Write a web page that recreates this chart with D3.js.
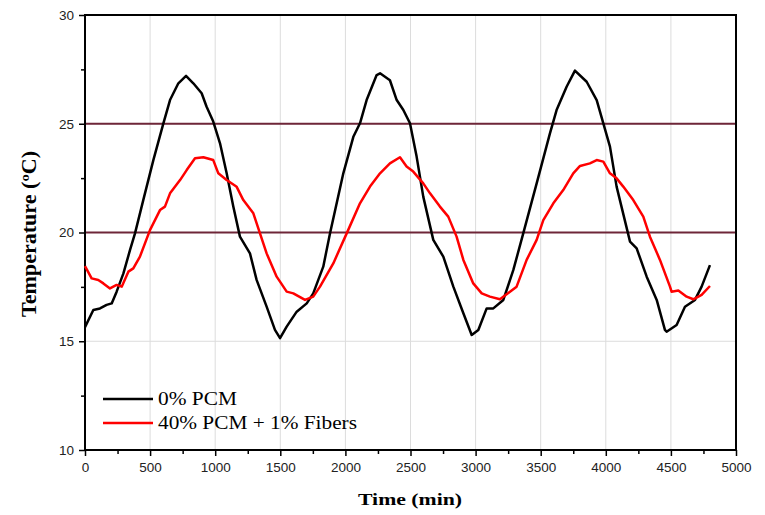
<!DOCTYPE html>
<html>
<head>
<meta charset="utf-8">
<script src="https://cdn.jsdelivr.net/npm/d3@7"></script>
<style>
  body { margin: 0; background: #fff; }
  .tick text { font-family: "Liberation Sans", Arial, sans-serif; font-size: 13.5px; fill: #222; }
  .axis-title { font-family: "Liberation Serif", "Times New Roman", serif; font-weight: bold; font-size: 17px; }
  .legend text { font-family: "Liberation Serif", "Times New Roman", serif; font-size: 18px; }
</style>
</head>
<body>
<svg></svg>
<script>
// time (min) / temperature (°C)
const pcm0Time = [0, 64, 115, 166, 205, 243, 295, 346, 384, 448, 525, 602, 653, 717, 776, 832, 896, 934, 985, 1037, 1088, 1139, 1190, 1267, 1318, 1395, 1459, 1498, 1549, 1626, 1703, 1753, 1830, 1882, 1984, 2061, 2112, 2163, 2240, 2266, 2342, 2394, 2445, 2496, 2547, 2598, 2675, 2752, 2829, 2906, 2970, 3021, 3085, 3136, 3213, 3290, 3366, 3469, 3571, 3622, 3699, 3763, 3853, 3930, 3981, 4032, 4083, 4186, 4237, 4314, 4391, 4454, 4467, 4544, 4608, 4685, 4736, 4800]
const pcm0Temp = [15.65, 16.44, 16.51, 16.67, 16.74, 17.28, 18.12, 19.2, 19.96, 21.5, 23.33, 25.02, 26.09, 26.86, 27.2, 26.86, 26.4, 25.78, 25.1, 24.1, 22.72, 21.19, 19.81, 19.04, 17.82, 16.59, 15.52, 15.14, 15.67, 16.36, 16.74, 17.2, 18.43, 19.96, 22.72, 24.4, 25.02, 26.09, 27.24, 27.32, 27.0, 26.09, 25.63, 25.02, 23.49, 21.65, 19.66, 18.89, 17.51, 16.29, 15.29, 15.52, 16.51, 16.51, 16.9, 18.28, 19.96, 22.26, 24.56, 25.63, 26.7, 27.44, 26.93, 26.09, 25.02, 23.95, 22.11, 19.58, 19.27, 17.97, 16.9, 15.52, 15.44, 15.75, 16.59, 16.9, 17.51, 18.5]

const pcm40Time = [0, 51, 102, 141, 192, 243, 282, 333, 371, 422, 499, 576, 614, 653, 730, 781, 845, 909, 985, 1024, 1088, 1165, 1216, 1293, 1344, 1395, 1472, 1549, 1600, 1690, 1753, 1805, 1907, 2010, 2112, 2189, 2266, 2342, 2419, 2470, 2521, 2598, 2650, 2726, 2790, 2854, 2906, 2982, 3047, 3110, 3187, 3264, 3315, 3392, 3469, 3520, 3597, 3673, 3750, 3802, 3878, 3930, 3981, 4032, 4083, 4134, 4211, 4288, 4339, 4416, 4493, 4505, 4557, 4621, 4672, 4736, 4800]
const pcm40Temp = [18.45, 17.89, 17.82, 17.66, 17.43, 17.59, 17.51, 18.2, 18.35, 18.89, 20.11, 21.03, 21.19, 21.8, 22.41, 22.87, 23.41, 23.46, 23.33, 22.72, 22.41, 22.1, 21.49, 20.88, 19.96, 19.04, 17.97, 17.28, 17.2, 16.9, 17.05, 17.51, 18.58, 19.96, 21.34, 22.11, 22.72, 23.18, 23.46, 23.03, 22.8, 22.26, 21.8, 21.19, 20.73, 19.81, 18.74, 17.66, 17.2, 17.05, 16.93, 17.28, 17.51, 18.74, 19.66, 20.57, 21.34, 21.95, 22.72, 23.06, 23.18, 23.33, 23.26, 22.72, 22.49, 22.11, 21.49, 20.73, 19.81, 18.74, 17.51, 17.28, 17.33, 17.05, 16.93, 17.13, 17.54]

const xTicks = [0, 500, 1000, 1500, 2000, 2500, 3000, 3500, 4000, 4500, 5000]
const yTicks = [10, 15, 20, 25, 30]
const refLines = [20, 25]
const seriesNames = ["0% PCM", "40% PCM + 1% Fibers"]
const seriesColors = ["#000000", "#ff0000"]

const svg = d3.select("svg")
  .attr("width", 765)
  .attr("height", 515)

const plotLeft = 85, plotRight = 736, plotTop = 15, plotBottom = 450

const scaleX = d3.scaleLinear().domain([0, 5000]).range([plotLeft, plotRight])
const scaleY = d3.scaleLinear().domain([10, 30]).range([plotBottom, plotTop])

// grid
svg.append("g")
  .selectAll("line")
  .data(xTicks.slice(1, -1))
  .enter()
  .append("line")
  .attr("x1", d => scaleX(d)).attr("x2", d => scaleX(d))
  .attr("y1", plotTop).attr("y2", plotBottom)
  .attr("stroke", "#dcdcdc").attr("stroke-width", 1)

svg.append("g")
  .selectAll("line")
  .data(yTicks.slice(1, -1))
  .enter()
  .append("line")
  .attr("x1", plotLeft).attr("x2", plotRight)
  .attr("y1", d => scaleY(d)).attr("y2", d => scaleY(d))
  .attr("stroke", "#dcdcdc").attr("stroke-width", 1)

// reference lines
svg.append("g")
  .selectAll("line")
  .data(refLines)
  .enter()
  .append("line")
  .attr("x1", plotLeft).attr("x2", plotRight)
  .attr("y1", d => scaleY(d)).attr("y2", d => scaleY(d))
  .attr("stroke", "#6e2638").attr("stroke-width", 2.2)

// axes
const axisX = d3.axisBottom(scaleX)
  .tickValues(xTicks)
  .tickFormat(d3.format("d"))
  .tickSizeInner(6)
  .tickSizeOuter(0)
  .tickPadding(6)

const axisXMinor = d3.axisBottom(scaleX)
  .tickValues(d3.range(250, 5000, 500))
  .tickFormat("")
  .tickSizeInner(4)
  .tickSizeOuter(0)

const axisY = d3.axisLeft(scaleY)
  .tickValues(yTicks)
  .tickSizeInner(6)
  .tickSizeOuter(0)
  .tickPadding(5)

const axisYMinor = d3.axisLeft(scaleY)
  .tickValues([12.5, 17.5, 22.5, 27.5])
  .tickFormat("")
  .tickSizeInner(4)
  .tickSizeOuter(0)

svg.append("g").attr("transform", `translate(0, ${plotBottom})`).call(axisXMinor)
svg.append("g").attr("transform", `translate(${plotLeft}, 0)`).call(axisYMinor)
svg.append("g").attr("class", "x-axis").attr("transform", `translate(0, ${plotBottom})`).call(axisX)
svg.append("g").attr("class", "y-axis").attr("transform", `translate(${plotLeft}, 0)`).call(axisY)

svg.selectAll(".domain").remove()
svg.selectAll(".tick line").attr("stroke", "#000").attr("stroke-width", 1.5)

// frame
svg.append("rect")
  .attr("x", plotLeft).attr("y", plotTop)
  .attr("width", plotRight - plotLeft).attr("height", plotBottom - plotTop)
  .attr("fill", "none").attr("stroke", "#000").attr("stroke-width", 2)

// curves
const line = d3.line()
  .x(d => scaleX(d[0]))
  .y(d => scaleY(d[1]))
  .curve(d3.curveLinear)

const series = [
  d3.zip(pcm0Time, pcm0Temp),
  d3.zip(pcm40Time, pcm40Temp)
]

svg.append("g")
  .selectAll("path")
  .data(series)
  .enter()
  .append("path")
  .attr("d", d => line(d))
  .attr("fill", "none")
  .attr("stroke", (d, i) => seriesColors[i])
  .attr("stroke-width", 2.5)
  .attr("stroke-linejoin", "round")

// legend (the original text is drawn a little wide)
const legendWidths = [79, 199]

const legend = svg.append("g").attr("class", "legend")
  .selectAll("g")
  .data(seriesNames)
  .enter()
  .append("g")
  .attr("transform", (d, i) => `translate(103, ${399 + i * 24})`)

legend.append("line")
  .attr("x1", 0).attr("x2", 50)
  .attr("stroke", (d, i) => seriesColors[i])
  .attr("stroke-width", 2.5)

legend.append("text")
  .attr("x", 55).attr("y", 6)
  .attr("textLength", (d, i) => legendWidths[i])
  .attr("lengthAdjust", "spacingAndGlyphs")
  .text(d => d)

// titles
svg.append("text")
  .attr("class", "axis-title")
  .attr("text-anchor", "middle")
  .attr("x", 410).attr("y", 505)
  .attr("textLength", 104)
  .attr("lengthAdjust", "spacingAndGlyphs")
  .text("Time (min)")

svg.append("text")
  .attr("class", "axis-title")
  .attr("text-anchor", "middle")
  .attr("transform", "translate(36, 234) rotate(-90)")
  .style("font-size", "20px")
  .attr("textLength", 166)
  .attr("lengthAdjust", "spacingAndGlyphs")
  .text("Temperature (ºC)")
</script>
</body>
</html>
